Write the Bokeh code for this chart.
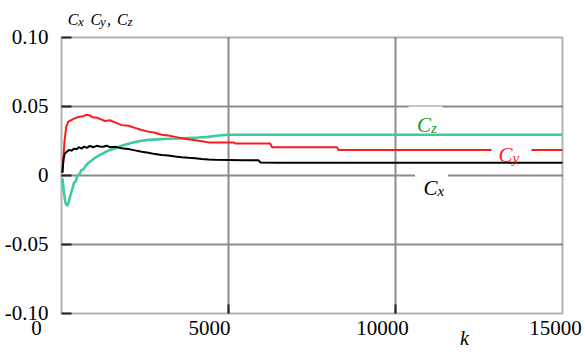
from bokeh.plotting import figure
from bokeh.models import Range1d, Label, FixedTicker, LinearAxis, Grid, BoxAnnotation
from bokeh.embed import file_html
from bokeh.resources import INLINE

# ---------------- data ----------------
cx_k = [30, 60, 100, 150, 220, 300, 380, 450, 520, 600, 680, 760, 850, 950, 1050,
        1150, 1250, 1350, 1450, 1600, 1800, 2000, 2200, 2400, 2600, 2800, 3000, 3200,
        3400, 3600, 3800, 4000, 4200, 4400, 4600, 5000, 5400, 5900, 5960, 6500, 15000]
cx_v = [0.002, 0.012, 0.016, 0.017, 0.0185, 0.018, 0.0195, 0.019, 0.0205, 0.0195,
        0.021, 0.020, 0.0215, 0.0205, 0.0215, 0.021, 0.0208, 0.0216, 0.0205, 0.0208,
        0.0198, 0.0192, 0.0182, 0.0172, 0.0165, 0.0155, 0.0148, 0.0145, 0.0138, 0.0132,
        0.0128, 0.0125, 0.0120, 0.0116, 0.0114, 0.0112, 0.0110, 0.0110, 0.0094, 0.0093,
        0.0093]

cy_k = [20, 50, 90, 140, 200, 280, 360, 450, 550, 650, 750, 850, 950, 1050, 1150, 1300,
        1450, 1600, 1800, 2000, 2200, 2400, 2600, 2800, 3000, 3200, 3400, 3600, 3800,
        4000, 4200, 4400, 5150, 5200, 6250, 6300, 8250, 8300, 15000]
cy_v = [0.002, 0.010, 0.025, 0.035, 0.039, 0.040, 0.041, 0.042, 0.0425, 0.043, 0.044,
        0.0435, 0.042, 0.042, 0.041, 0.0395, 0.040, 0.0385, 0.0365, 0.036, 0.0345, 0.033,
        0.0318, 0.031, 0.0295, 0.029, 0.028, 0.027, 0.0262, 0.0255, 0.0248, 0.0240,
        0.0240, 0.0232, 0.0232, 0.0205, 0.0205, 0.0185, 0.0185]

cz_k = [30, 70, 120, 170, 220, 270, 320, 380, 430, 480, 540, 600, 660, 720, 800, 880,
        960, 1050, 1150, 1250, 1350, 1450, 1600, 1800, 2000, 2300, 2600, 2900, 3200, 3500,
        3800, 4100, 4400, 4700, 5000, 15000]
cz_v = [-0.002, -0.012, -0.020, -0.022, -0.019, -0.014, -0.010, -0.005, -0.004, 0.000,
        0.001, 0.004, 0.0045, 0.007, 0.009, 0.0105, 0.012, 0.0135, 0.015, 0.016, 0.0175,
        0.0185, 0.0195, 0.0215, 0.023, 0.0248, 0.0258, 0.0262, 0.0266, 0.0268, 0.0272,
        0.0275, 0.0280, 0.0290, 0.0295, 0.0295]

x_ticks = [0, 5000, 10000, 15000]
x_tick_labels = ["0", "5000", "10000", "15000"]
y_ticks = [-0.10, -0.05, 0.0, 0.05, 0.10]
y_tick_labels = ["-0.10", "-0.05", "0", "0.05", "0.10"]
x_grid = [5000, 10000]
y_grid = [-0.05, 0.0, 0.05]
K_MIN, K_MAX = 0, 15000
V_MIN, V_MAX = -0.10, 0.10

# curve label anchors (data)
lab_names = ["x", "y", "z"]
lab_k = [11257, 13503, 11063]
lab_v = [-0.0094, 0.0145, 0.03625]
box_k = [11078, 13473, 10898]
box_v = [0.0, 0.0196, 0.0413]

# ---------------- style ----------------
FONT = "'Liberation Serif', 'Times New Roman', 'DejaVu Serif', serif"
C_X, C_Y, C_Z = "#000000", "#ff1a1a", "#3dcc9a"
C_ZLAB = "#1f9a2a"
GRID = "#8c8c8c"
TICK = "#222222"

# the frame covers the whole canvas; the plot box is 0..15000 x -0.1..0.1
p = figure(width=585, height=353, output_backend="svg", toolbar_location=None,
           x_range=Range1d(-1826.3, 15688.6), y_range=Range1d(-0.12899, 0.12681),
           x_axis_location=None, y_axis_location=None,
           min_border_left=0, min_border_right=0, min_border_top=0,
           min_border_bottom=0)
p.background_fill_color = "white"
p.border_fill_color = "white"
p.outline_line_color = None
p.xgrid.visible = False
p.ygrid.visible = False
p.extra_x_ranges = {"lab": Range1d(-1040.5, 15867)}

# grids, limited to the plot box
vgrid = Grid(dimension=0, ticker=FixedTicker(ticks=x_grid), cross_bounds=(V_MIN, V_MAX),
             grid_line_color=GRID, grid_line_width=2)
hgrid = Grid(dimension=1, ticker=FixedTicker(ticks=y_grid), cross_bounds=(K_MIN, K_MAX),
             grid_line_color=GRID, grid_line_width=2)
p.add_layout(vgrid)
p.add_layout(hgrid)

# y axis at k = 0
yax = LinearAxis(fixed_location=K_MIN, bounds=(V_MIN, V_MAX),
                 ticker=FixedTicker(ticks=y_ticks),
                 major_label_overrides={t: s for t, s in zip(y_ticks, y_tick_labels)},
                 major_label_text_font=FONT, major_label_text_font_size="21px",
                 major_label_text_color="black", major_label_standoff=13,
                 axis_line_color=None, minor_tick_line_color=None,
                 major_tick_in=10, major_tick_out=0, major_tick_line_color=TICK,
                 major_tick_line_width=2)
p.add_layout(yax, "left")

# x axis (tick marks) at v = -0.10
xax = LinearAxis(fixed_location=V_MIN, bounds=(K_MIN, K_MAX),
                 ticker=FixedTicker(ticks=x_grid),
                 major_label_text_color=None, axis_line_color=None,
                 minor_tick_line_color=None, major_tick_in=9, major_tick_out=0,
                 major_tick_line_color=TICK, major_tick_line_width=2)
p.add_layout(xax, "below")

# x axis tick labels (placed as in the reference)
xlab = LinearAxis(x_range_name="lab", fixed_location=V_MIN,
                  ticker=FixedTicker(ticks=x_ticks),
                  major_label_overrides={t: s for t, s in zip(x_ticks, x_tick_labels)},
                  major_label_text_font=FONT, major_label_text_font_size="21px",
                  major_label_text_color="black", major_label_standoff=8,
                  axis_line_color=None, minor_tick_line_color=None,
                  major_tick_line_color=None, major_tick_in=0, major_tick_out=0)
p.add_layout(xlab, "below")

# plot box
p.add_layout(BoxAnnotation(left=K_MIN, right=K_MAX, bottom=V_MIN, top=V_MAX,
                           fill_color=None, line_color="black", line_width=2,
                           level="underlay"))

# lines
p.line(cz_k, cz_v, line_color=C_Z, line_width=2.6)
p.line(cy_k, cy_v, line_color=C_Y, line_width=2)
p.line(cx_k, cx_v, line_color=C_X, line_width=2)

# white gaps behind curve labels
box_w = [33, 40, 34]
box_h = [22, 24, 24]
p.rect(x=box_k, y=box_v, width=box_w, height=box_h, width_units="screen",
       height_units="screen", fill_color="white", line_color=None)

# curve labels
lab_colors = [C_X, C_Y, C_ZLAB]
for name, k, v, col in zip(lab_names, lab_k, lab_v, lab_colors):
    p.add_layout(Label(x=k, y=v, text="C", text_font=FONT, text_font_style="italic",
                       text_font_size="21px", text_color=col, text_align="right",
                       text_baseline="alphabetic"))
    p.add_layout(Label(x=k, y=v, y_offset=-3, text=name, text_font=FONT,
                       text_font_style="italic", text_font_size="15px", text_color=col,
                       text_align="left", text_baseline="alphabetic"))

# axis name k
p.add_layout(Label(x=12066, y=V_MIN, y_offset=-14, text="k", text_font=FONT,
                   text_font_style="italic", text_font_size="20px", text_color="black",
                   text_align="center", text_baseline="top"))

# title C_x C_y, C_z
title_parts = [("C", 6.3, 0, "16px"), ("x", 16.5, -2, "13px"), ("C", 29, 0, "16px"),
               ("y", 38.5, -2, "13px"), (",", 45.5, 0, "16px"), ("C", 55.5, 0, "16px"),
               ("z", 66, -2, "13px")]
for t, dx, dy, fs in title_parts:
    p.add_layout(Label(x=K_MIN, y=V_MAX, x_offset=dx, y_offset=18 + dy, text=t,
                       text_font=FONT, text_font_style="italic", text_font_size=fs,
                       text_color="black", text_align="left", text_baseline="alphabetic"))

open("out.html", "w").write(file_html(p, INLINE))
